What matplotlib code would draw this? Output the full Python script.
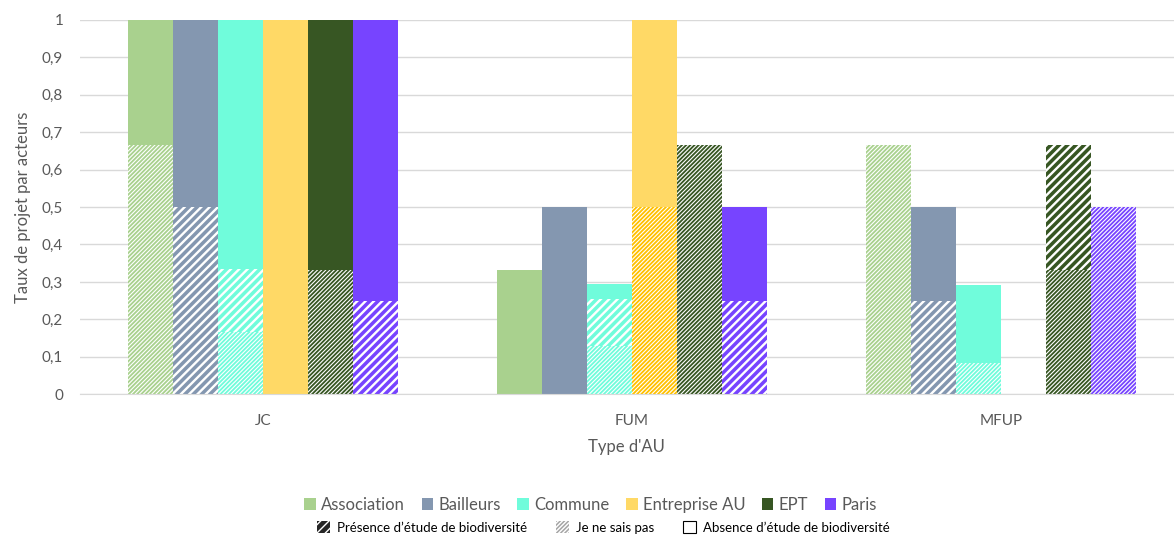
import matplotlib.pyplot as plt
import numpy as np
from matplotlib.patches import Patch

plt.rcParams['font.family'] = ['Lato', 'DejaVu Sans']

# categories
types = ['JC', 'FUM', 'MFUP']
actors = ['Association', 'Bailleurs', 'Commune', 'Entreprise AU', 'EPT', 'Paris']
colors = ['#A9D18E', '#8497B0', '#70FCDB', '#FFD966', '#375623', '#7744FF']
hatch_colors = ['#A9D18E', '#8497B0', '#70FCDB', '#FFC000', '#375623', '#7744FF']

# share of projects per actor, one row per type (JC, FUM, MFUP)
presence = [[0.667, 0.0, 0.167, 0.0, 0.333, 0.0],
            [0.0, 0.0, 0.13, 0.5, 0.667, 0.0],
            [0.667, 0.0, 0.083, 0.0, 0.333, 0.5]]
nsp = [[0.0, 0.5, 0.167, 0.0, 0.0, 0.25],
       [0.0, 0.0, 0.125, 0.0, 0.0, 0.25],
       [0.0, 0.25, 0.0, 0.0, 0.333, 0.0]]
absence = [[0.333, 0.5, 0.667, 1.0, 0.667, 0.75],
           [0.333, 0.5, 0.04, 0.5, 0.0, 0.25],
           [0.0, 0.25, 0.208, 0.0, 0.0, 0.0]]

yticks = [0, 0.1, 0.2, 0.3, 0.4, 0.5, 0.6, 0.7, 0.8, 0.9, 1]

presence = np.array(presence)
nsp = np.array(nsp)
absence = np.array(absence)

fig = plt.figure(figsize=(11.74, 5.35), dpi=100)
ax = fig.add_axes([0.068, 0.263, 0.932, 0.7])

x = np.arange(len(types))
w = 0.122


def hatched_bar(xs, h, bottom, fc, hatch, lw):
    with plt.rc_context({'hatch.linewidth': lw}):
        bars = ax.bar(xs, h, w, bottom=bottom, color=fc, edgecolor='white',
                      linewidth=0, hatch=hatch, zorder=2)
    for b in bars:
        if hasattr(b, 'set_hatch_linewidth'):
            b.set_hatch_linewidth(lw)


for i, name in enumerate(actors):
    xs = x + (i - 2.5) * w
    p = presence[:, i]
    n = nsp[:, i]
    a = absence[:, i]
    hatched_bar(xs, p, 0, hatch_colors[i], '////////', 0.8)
    hatched_bar(xs, n, p, colors[i], '////', 1.7)
    ax.bar(xs, a, w, bottom=p + n, color=colors[i], linewidth=0, zorder=2)

ax.set_xlim(-0.496, 2.469)
ax.set_ylim(0, 1)
ax.set_yticks(yticks)
ax.set_yticklabels([('%g' % v).replace('.', ',') for v in yticks])
ax.set_xticks(x)
ax.set_xticklabels(types)
ax.yaxis.grid(True, color='#D9D9D9', linewidth=1, zorder=0)
ax.set_axisbelow(True)
for s in ['top', 'right', 'left']:
    ax.spines[s].set_visible(False)
ax.spines['bottom'].set_color('#D9D9D9')
ax.tick_params(axis='both', length=0, labelsize=11, colors='#595959')
ax.tick_params(axis='x', pad=14)
ax.tick_params(axis='y', pad=12)
ax.set_xlabel("Type d'AU", fontsize=12, color='#595959', labelpad=8)
ax.set_ylabel('Taux de projet par acteurs', fontsize=12, color='#595959', labelpad=8)

# actor legend
actor_handles = [Patch(facecolor=c, linewidth=0) for c in colors]
leg1 = fig.legend(actor_handles, actors, loc='center', bbox_to_anchor=(0.503, 0.057),
                  ncol=6, frameon=False, fontsize=12, handlelength=0.7,
                  handleheight=0.7, handletextpad=0.3, columnspacing=1.0,
                  labelcolor='#595959')

# study legend
study_handles = [Patch(facecolor='#262626', edgecolor='white', hatch='////', linewidth=0),
                 Patch(facecolor='#A6A6A6', edgecolor='white', hatch='////////', linewidth=0),
                 Patch(facecolor='white', edgecolor='black', linewidth=0.8)]
study_labels = ['Présence d’étude de biodiversité', 'Je ne sais pas',
                'Absence d’étude de biodiversité']
leg2 = fig.legend(study_handles, study_labels, loc='center', bbox_to_anchor=(0.514, 0.014),
                  ncol=3, frameon=False, fontsize=9.5, handlelength=1.0,
                  handleheight=1.0, handletextpad=0.5, columnspacing=2.2)

fig.savefig('out.png', dpi=100)
